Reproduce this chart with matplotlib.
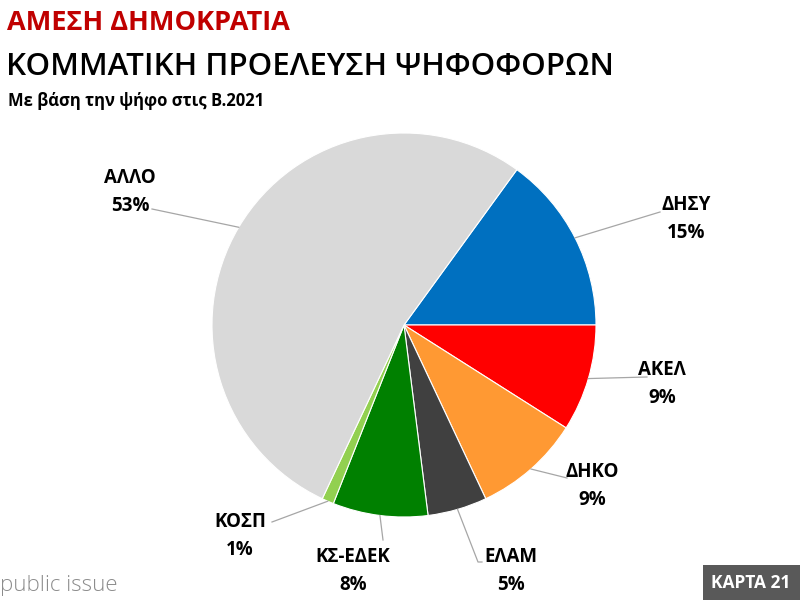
import numpy as np
import matplotlib
matplotlib.use('Agg')
import matplotlib.pyplot as plt
from matplotlib.patches import Rectangle

plt.rcParams['font.family'] = ['Open Sans', 'DejaVu Sans']

# data
parties = ['ΔΗΣΥ', 'ΑΚΕΛ', 'ΔΗΚΟ', 'ΕΛΑΜ', 'ΚΣ-ΕΔΕΚ', 'ΚΟΣΠ', 'ΑΛΛΟ']
shares = [15, 9, 9, 5, 8, 1, 53]
colors = ['#0070C0', '#FF0000', '#FF9933', '#404040', '#008000', '#92D050', '#D9D9D9']

# layout (pixel coords, y measured from top)
W, H = 800, 600
CX, CY, R = 404, 325, 192
# label centre (x, y of name line) and where the leader line meets the label
label_pos = {
    'ΔΗΣΥ':    ((686, 205), (660, 212)),
    'ΑΚΕΛ':    ((662, 370), (647, 377)),
    'ΔΗΚΟ':    ((592, 472), (567, 478)),
    'ΕΛΑΜ':    ((511, 557), (482, 562)),
    'ΚΣ-ΕΔΕΚ': ((353, 557), (383, 540)),
    'ΚΟΣΠ':    ((240, 522), (272, 522)),
    'ΑΛΛΟ':    ((130, 178), (152, 209)),
}

fig = plt.figure(figsize=(8, 6), dpi=100)
ax = fig.add_axes([0, 0, 1, 1])

def Y(y):
    return H - y

wedges, _ = ax.pie(shares, colors=colors, startangle=360 * shares[0] / 100,
                   counterclock=False, center=(CX, Y(CY)), radius=R,
                   wedgeprops=dict(edgecolor='white', linewidth=0.8))

for w, name, val in zip(wedges, parties, shares):
    mid = np.deg2rad((w.theta1 + w.theta2) / 2)
    ex, ey = CX + R * np.cos(mid), Y(CY) + R * np.sin(mid)
    (lx, ly), (px, py) = label_pos[name]
    if name in ('ΕΛΑΜ',):
        ax.plot([ex, px - 4, px], [ey, Y(py), Y(py)], color='#A6A6A6', lw=0.9)
    else:
        ax.plot([ex, px], [ey, Y(py)], color='#A6A6A6', lw=0.9)
    ax.text(lx, Y(ly), name, ha='center', va='center', fontsize=13.5, fontweight='bold')
    ax.text(lx, Y(ly + 28), f'{val}%', ha='center', va='center', fontsize=13.5, fontweight='bold')

ax.set_xlim(0, W)
ax.set_ylim(0, H)
ax.set_aspect('equal')
ax.axis('off')

# titles
ax.text(7, Y(23), 'ΑΜΕΣΗ ΔΗΜΟΚΡΑΤΙΑ', ha='left', va='center', fontsize=19.5,
        fontweight='bold', color='#C00000')
ax.text(6, Y(67), 'ΚΟΜΜΑΤΙΚΗ ΠΡΟΕΛΕΥΣΗ ΨΗΦΟΦΟΡΩΝ', ha='left', va='center',
        fontsize=22.5, fontweight='semibold', color='black')
ax.text(8, Y(101), 'Με βάση την ψήφο στις Β.2021', ha='left', va='center',
        fontsize=12, fontweight='bold', color='black')

# footer
ax.text(0, Y(585), 'public issue', ha='left', va='center', fontsize=16,
        color='#8C8C8C', fontweight='light')
ax.add_patch(Rectangle((703, 0), 97, 35, facecolor='#595959', edgecolor='none'))
ax.text(751, Y(583), 'ΚΑΡΤΑ 21', ha='center', va='center', fontsize=12.5,
        fontweight='bold', color='white')

fig.savefig('out.png', dpi=100)
